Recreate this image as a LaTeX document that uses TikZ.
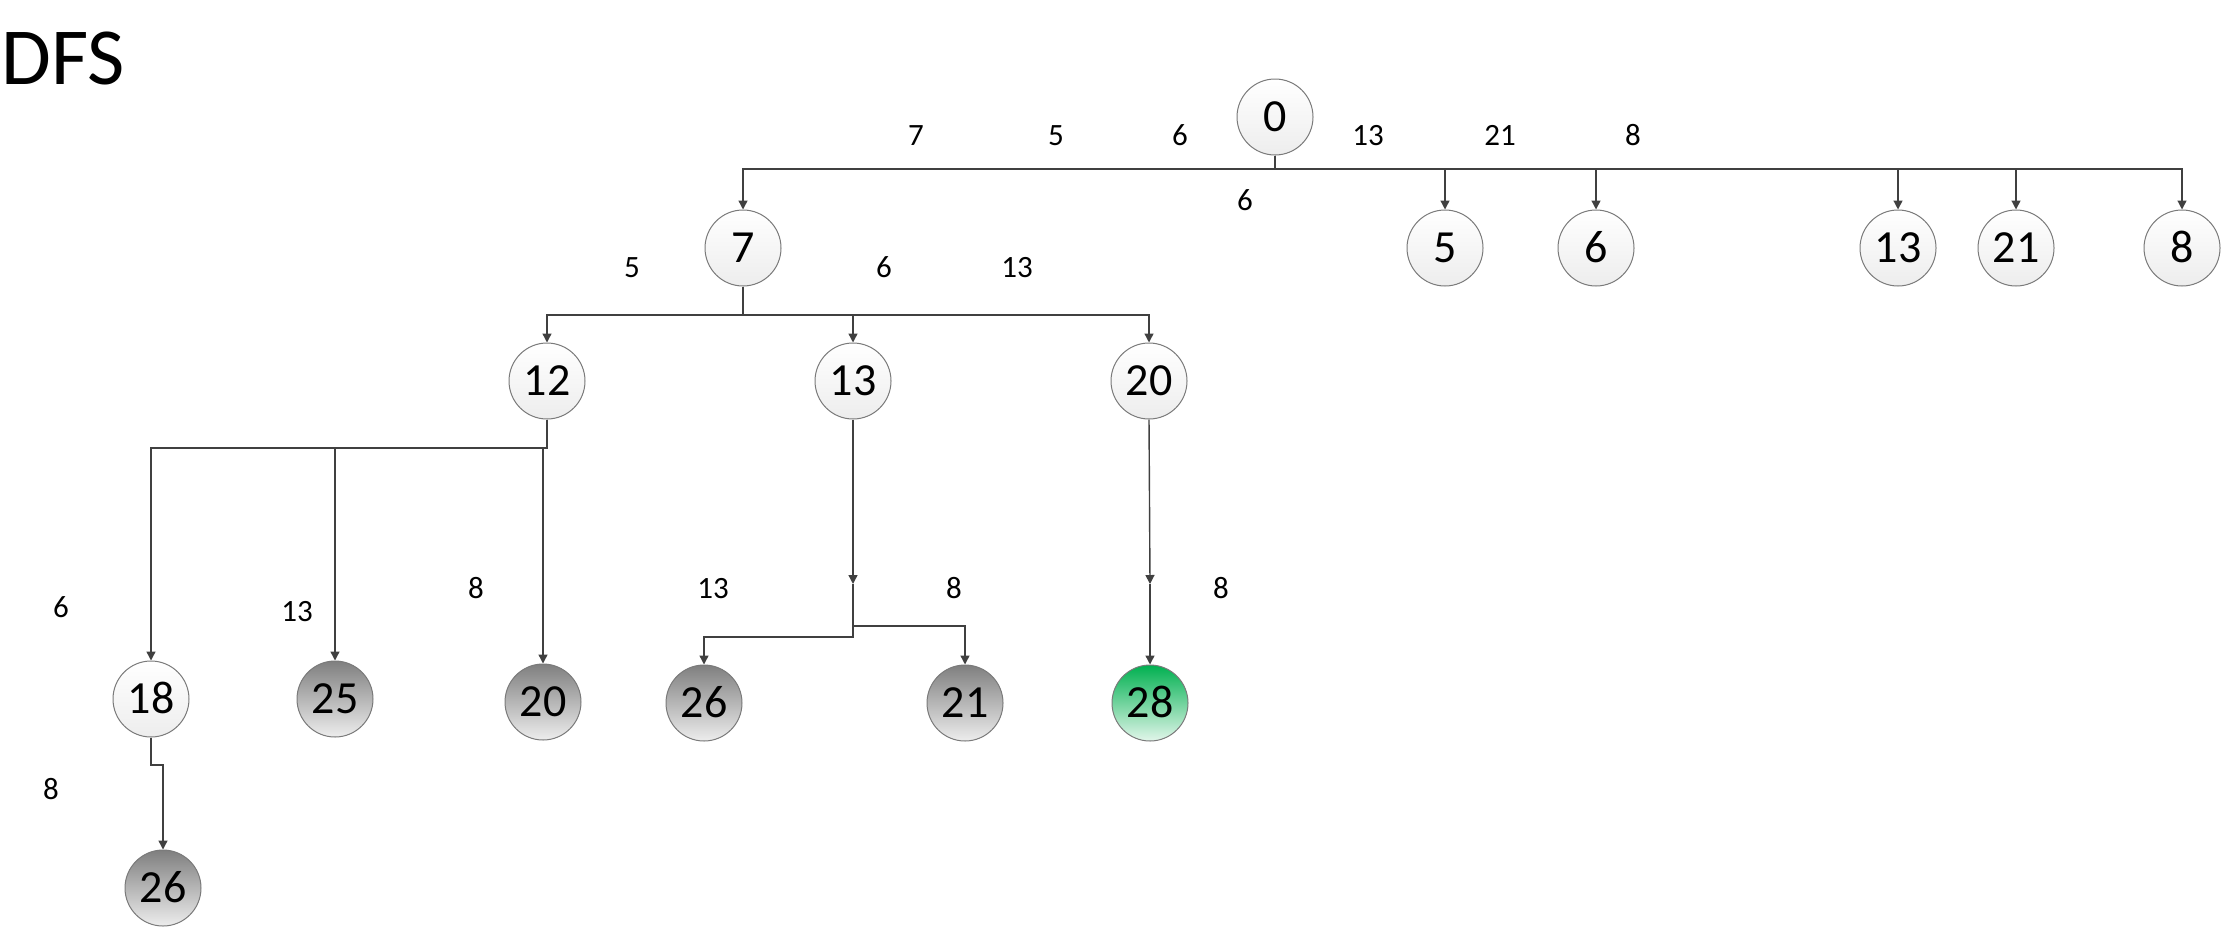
\documentclass[tikz,border=0pt]{standalone}
\usepackage{fontspec}
\setmainfont{Carlito}
\usetikzlibrary{arrows.meta}
\definecolor{linec}{HTML}{404040}
\definecolor{rimc}{HTML}{7A7A7A}
\definecolor{greytop}{HTML}{7F7F7F}
\definecolor{greybot}{HTML}{EDEDED}
\definecolor{greentop}{HTML}{00B050}
\definecolor{greenbot}{HTML}{E2F6EA}
\tikzset{
  vtx/.style={circle, draw=rimc, line width=1pt, minimum size=76pt, inner sep=0pt,
    font=\fontsize{46}{50}\selectfont, text height=29pt, text depth=0pt},
  whitev/.style={vtx, top color=white, bottom color=greybot},
  greyv/.style={vtx, top color=greytop, bottom color=greybot},
  greenv/.style={vtx, top color=greentop, bottom color=greenbot},
  lab/.style={font=\fontsize{31}{34}\selectfont, inner sep=0pt, text height=19.5pt, text depth=0pt},
  conn/.style={draw=linec, line width=1.4pt},
  arr/.style={conn, -{Triangle[length=9pt,width=9pt]}},
}
\begin{document}
\begin{tikzpicture}[x=1pt,y=-1pt]
\useasboundingbox (0,0) rectangle (2223,929);
\node[anchor=base west, font=\fontsize{81}{84}\selectfont, inner sep=0pt] (title) at (1,84) {DFS};
% nodes
\node[whitev] (n0) at (1275,117) {0};
\node[whitev] (n7) at (743,248) {7};
\node[whitev] (a5) at (1445,248) {5};
\node[whitev] (a6) at (1596,248) {6};
\node[whitev] (a13) at (1898,248) {13};
\node[whitev] (a21) at (2016,248) {21};
\node[whitev] (a8) at (2182,248) {8};
\node[whitev] (n12) at (547,381) {12};
\node[whitev] (n13) at (853,381) {13};
\node[whitev] (n20) at (1149,381) {20};
\node[whitev] (n18) at (151,699) {18};
\node[greyv] (g25) at (335,699) {25};
\node[greyv] (g20) at (543,702) {20};
\node[greyv] (g26a) at (704,703) {26};
\node[greyv] (g21) at (965,703) {21};
\node[greenv] (n28) at (1150,703) {28};
\node[greyv] (g26b) at (163,888) {26};
% bus coordinates
\coordinate (b0) at (1275,169);
\coordinate (b7) at (743,315);
\coordinate (b12) at (547,448);
\coordinate (m13) at (853,584);
\coordinate (s13) at (853,637);
\coordinate (r13) at (853,626);
\coordinate (m20) at (1150,584);
\coordinate (s18) at (151,765);
% connectors level 1
\foreach \t in {n7,a5,a6,a13,a21,a8}
  \draw[arr] (n0.south) -- (b0) -| (\t.north);
% level 2
\foreach \t in {n12,n13,n20}
  \draw[arr] (n7.south) -- (b7) -| (\t.north);
% level 3 from 12
\foreach \t in {n18,g25,g20}
  \draw[arr] (n12.south) -- (b12) -| (\t.north);
% from 13
\draw[arr] (n13.south) -- (m13);
\draw[arr] (m13) -- (s13) -| (g26a.north);
\draw[arr] (m13) -- (r13) -| (g21.north);
% from 20
\draw[arr] (n20.south) -- (m20);
\draw[arr] (m20) -- (n28.north);
% from 18
\draw[arr] (n18.south) -- (s18) -| (g26b.north);
% labels
\node[lab] (l1) at (916,136) {7};
\node[lab] (l2) at (1056,136) {5};
\node[lab] (l3) at (1180,136) {6};
\node[lab] (l4) at (1368,136) {13};
\node[lab] (l5) at (1500,136) {21};
\node[lab] (l6) at (1633,136) {8};
\node[lab] (l7) at (1245,201) {6};
\node[lab] (l8) at (632,268) {5};
\node[lab] (l9) at (884,268) {6};
\node[lab] (l10) at (1017,268) {13};
\node[lab] (l11) at (61,608) {6};
\node[lab] (l12) at (297,612) {13};
\node[lab] (l13) at (476,589) {8};
\node[lab] (l14) at (713,589) {13};
\node[lab] (l15) at (954,589) {8};
\node[lab] (l16) at (1221,589) {8};
\node[lab] (l17) at (51,790) {8};
\end{tikzpicture}
\end{document}
